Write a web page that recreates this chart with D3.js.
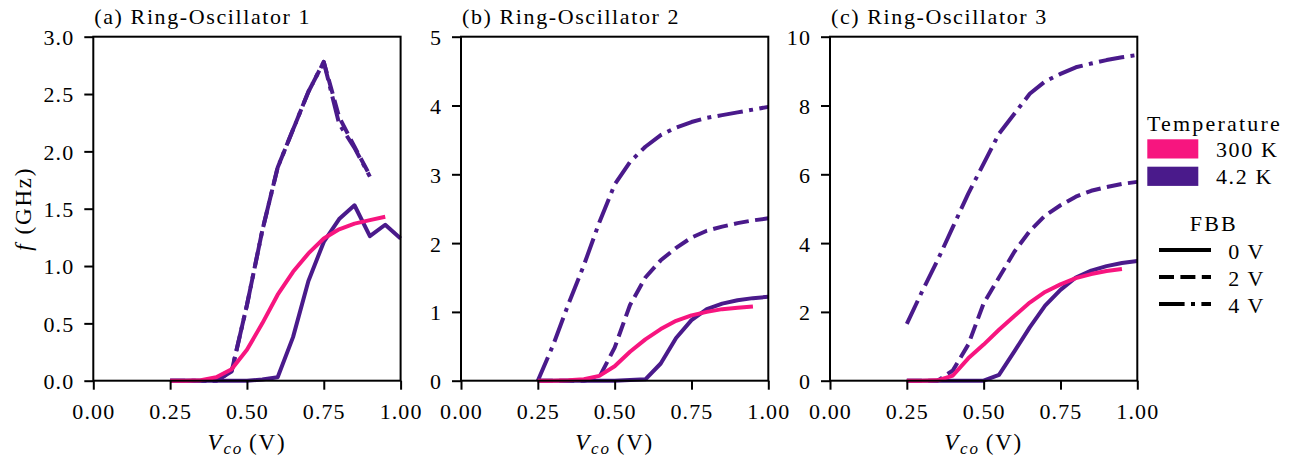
<!DOCTYPE html>
<html>
<head>
<meta charset="utf-8">
<script src="https://cdn.jsdelivr.net/npm/d3@7"></script>
<style>
  html, body { margin: 0; padding: 0; background: #fff; }
  svg text { font-family: "Liberation Serif", "DejaVu Serif", serif; fill: #000; }
  .num { letter-spacing: 1.1px; }
  .word { letter-spacing: 1.6px; }
  .lgword { letter-spacing: 2.2px; }
  .axlabel { letter-spacing: 1.8px; }
</style>
</head>
<body>
<svg id="chart" width="1296" height="463"></svg>
<script>
// Control voltage sweep (V)
const vco = [0.25, 0.30, 0.35, 0.40, 0.45, 0.50, 0.55, 0.60, 0.65, 0.70, 0.75, 0.80, 0.85, 0.90, 0.95, 1.00];

// Ring-Oscillator 1, frequency in GHz
const ro1_300K_0V = [0, 0, 0.005, 0.03, 0.10, 0.27, 0.50, 0.75, 0.95, 1.11, 1.24, 1.32, 1.37, 1.40, 1.43, null];
const ro1_4K_0V   = [0, 0, 0, 0, 0, 0, 0.01, 0.03, 0.38, 0.87, 1.21, 1.41, 1.53, 1.26, 1.36, 1.24];
const ro1_4K_2V   = [0, 0, 0, 0, 0.08, 0.66, 1.31, 1.86, 2.19, 2.52, 2.78, 2.30, 2.04, 1.79, null, null];
const ro1_4K_4V   = [0, 0, 0, 0, 0.08, 0.66, 1.31, 1.86, 2.19, 2.52, 2.78, 2.24, 2.03, 1.78, null, null];

// Ring-Oscillator 2, frequency in GHz
const ro2_300K_0V = [0, 0, 0.005, 0.02, 0.07, 0.21, 0.42, 0.60, 0.75, 0.87, 0.95, 1.00, 1.04, 1.06, 1.08, null];
const ro2_4K_0V   = [0, 0, 0, 0, 0, 0, 0.01, 0.02, 0.25, 0.62, 0.88, 1.04, 1.12, 1.17, 1.20, 1.22];
const ro2_4K_2V   = [0, 0, 0, 0, 0.05, 0.48, 1.10, 1.50, 1.75, 1.93, 2.08, 2.18, 2.24, 2.29, 2.33, 2.36];
const ro2_4K_4V   = [0, 0.52, 1.12, 1.68, 2.30, 2.85, 3.18, 3.40, 3.57, 3.68, 3.76, 3.82, 3.86, 3.90, 3.94, 3.98];

// Ring-Oscillator 3, frequency in GHz
const ro3_300K_0V = [0, 0, 0.01, 0.15, 0.65, 1.05, 1.48, 1.88, 2.27, 2.58, 2.80, 2.98, 3.10, 3.19, 3.25, null];
const ro3_4K_0V   = [0, 0, 0, 0, 0, 0, 0.17, 0.85, 1.55, 2.18, 2.64, 3.00, 3.20, 3.33, 3.42, 3.48];
const ro3_4K_2V   = [0, 0, 0, 0.30, 1.05, 2.25, 3.00, 3.75, 4.35, 4.80, 5.10, 5.35, 5.52, 5.63, 5.72, 5.78];
const ro3_4K_4V   = [1.65, 2.60, 3.50, 4.47, 5.44, 6.31, 7.18, 7.76, 8.34, 8.70, 8.92, 9.11, 9.22, 9.32, 9.40, 9.47];

// Tick values
const xTicks = [0, 0.25, 0.5, 0.75, 1.0];
const yTicks1 = [0, 0.5, 1.0, 1.5, 2.0, 2.5, 3.0];
const yTicks2 = [0, 1, 2, 3, 4, 5];
const yTicks3 = [0, 2, 4, 6, 8, 10];

// Legend entries
const tempLabels = ["300 K", "4.2 K"];
const fbbLabels = ["0 V", "2 V", "4 V"];

const titles = ["(a) Ring-Oscillator 1", "(b) Ring-Oscillator 2", "(c) Ring-Oscillator 3"];

const COLOR = { "300K": "#f7157f", "4K": "#4a1a8b" };
const DASH = { "0V": null, "2V": "15,6.4", "4V": "25.6,6.4,4,6.4" };
const LINE_W = 4;

const panels = [
  { title: titles[0], yMax: 3.0, yTicks: yTicks1, fmt: d3.format(".1f"), left: 93.3,
    series: [
      { y: ro1_4K_0V, t: "4K", f: "0V" }, { y: ro1_4K_2V, t: "4K", f: "2V" },
      { y: ro1_4K_4V, t: "4K", f: "4V" }, { y: ro1_300K_0V, t: "300K", f: "0V" } ] },
  { title: titles[1], yMax: 5, yTicks: yTicks2, fmt: d3.format("d"), left: 461,
    series: [
      { y: ro2_4K_0V, t: "4K", f: "0V" }, { y: ro2_4K_2V, t: "4K", f: "2V" },
      { y: ro2_4K_4V, t: "4K", f: "4V" }, { y: ro2_300K_0V, t: "300K", f: "0V" } ] },
  { title: titles[2], yMax: 10, yTicks: yTicks3, fmt: d3.format("d"), left: 830,
    series: [
      { y: ro3_4K_0V, t: "4K", f: "0V" }, { y: ro3_4K_2V, t: "4K", f: "2V" },
      { y: ro3_4K_4V, t: "4K", f: "4V" }, { y: ro3_300K_0V, t: "300K", f: "0V" } ] }
];

const svg = d3.select("#chart");
const plotTop = 36.7, plotBottom = 380.7, plotWidth = 307.3;
const FONT = 22;

panels.forEach((p, i) => {
  const x = d3.scaleLinear().domain([0, 1]).range([p.left, p.left + plotWidth]);
  const y = d3.scaleLinear().domain([0, p.yMax]).range([plotBottom, plotTop]);
  const g = svg.append("g");

  // data lines
  const line = d3.line()
    .defined(d => d[1] !== null)
    .x(d => x(d[0])).y(d => y(d[1]));
  p.series.forEach(s => {
    const pts = vco.map((v, k) => [v, s.y[k]]);
    g.append("path")
      .attr("d", line(pts))
      .attr("fill", "none")
      .attr("stroke", COLOR[s.t])
      .attr("stroke-width", LINE_W)
      .attr("stroke-linejoin", "round")
      .attr("stroke-dasharray", DASH[s.f]);
  });

  // frame
  g.append("rect")
    .attr("x", p.left).attr("y", plotTop)
    .attr("width", plotWidth).attr("height", plotBottom - plotTop)
    .attr("fill", "none").attr("stroke", "#000").attr("stroke-width", 2);

  // axes
  const xAxis = g.append("g").attr("transform", `translate(0,${plotBottom})`)
    .call(d3.axisBottom(x).tickValues(xTicks).tickFormat(d3.format(".2f")).tickSize(9).tickPadding(8));
  const yAxis = g.append("g").attr("transform", `translate(${p.left},0)`)
    .call(d3.axisLeft(y).tickValues(p.yTicks).tickFormat(p.fmt).tickSize(9).tickPadding(10));
  [xAxis, yAxis].forEach(a => {
    a.select(".domain").remove();
    a.selectAll(".tick line").attr("stroke", "#000").attr("stroke-width", 2);
    a.selectAll(".tick text")
      .attr("class", "num")
      .style("font-family", '"Liberation Serif", serif')
      .style("font-size", FONT + "px")
      .attr("fill", "#000");
  });
  xAxis.selectAll(".tick text").attr("dy", "0.95em");
  yAxis.selectAll(".tick text").attr("dy", "0.36em");

  // title
  svg.append("text").attr("class", "word")
    .attr("x", p.left + 1).attr("y", 23.5)
    .style("font-size", FONT + "px")
    .text(p.title);

  // x label: V_co (V)
  const xl = svg.append("text").attr("class", "axlabel")
    .attr("x", p.left + plotWidth / 2).attr("y", 450)
    .attr("text-anchor", "middle")
    .style("font-size", "23px");
  xl.append("tspan").style("font-style", "italic").text("V");
  xl.append("tspan").style("font-style", "italic").style("font-size", "17px").attr("dy", 4).text("co");
  xl.append("tspan").attr("dy", -4).attr("dx", 6).text("(V)");
});

// y label: f (GHz)
const yl = svg.append("text").attr("class", "axlabel")
  .attr("transform", `translate(31,${(plotTop + plotBottom) / 2}) rotate(-90)`)
  .attr("text-anchor", "middle")
  .style("font-size", "23px");
yl.append("tspan").style("font-style", "italic").text("f");
yl.append("tspan").attr("dx", 8).text("(GHz)");

// legend: temperature
const lg = svg.append("g");
lg.append("text").attr("class", "lgword")
  .attr("x", 1214.5).attr("y", 130.7).attr("text-anchor", "middle")
  .style("font-size", FONT + "px").text("Temperature");
const tempColors = [COLOR["300K"], COLOR["4K"]];
tempLabels.forEach((lab, k) => {
  const yy = 139.3 + k * 27.4;
  lg.append("rect").attr("x", 1147.3).attr("y", yy).attr("width", 51).attr("height", 19.2)
    .attr("fill", tempColors[k]);
  lg.append("text").attr("class", "word")
    .attr("x", 1216).attr("y", yy + 17.4)
    .style("font-size", FONT + "px").text(lab);
});

// legend: forward body bias
lg.append("text").attr("class", "lgword")
  .attr("x", 1213.8).attr("y", 230.7).attr("text-anchor", "middle")
  .style("font-size", FONT + "px").text("FBB");
const fbbKeys = ["0V", "2V", "4V"];
fbbLabels.forEach((lab, k) => {
  const yy = 250 + k * 27;
  lg.append("line").attr("x1", 1159).attr("x2", 1211).attr("y1", yy).attr("y2", yy)
    .attr("stroke", "#000").attr("stroke-width", LINE_W)
    .attr("stroke-dasharray", DASH[fbbKeys[k]]);
  lg.append("text").attr("class", "word")
    .attr("x", 1228.3).attr("y", yy + 9)
    .style("font-size", FONT + "px").text(lab);
});
</script>
</body>
</html>
